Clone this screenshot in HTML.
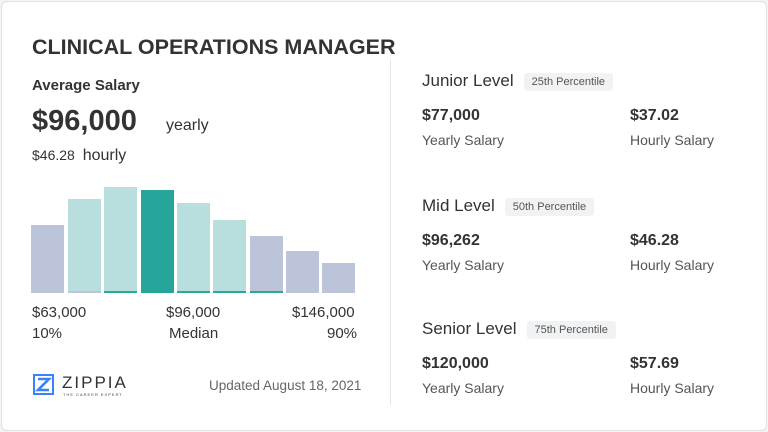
<!DOCTYPE html>
<html><head><style>
body{margin:0;width:768px;height:432px;background:#f3f4f6;font-family:"Liberation Sans",sans-serif;color:#333;overflow:hidden}
.card{position:absolute;left:1px;top:1px;width:764px;height:428px;background:#fff;border:1px solid #dfe1e5;border-radius:6px}
.t{position:absolute;white-space:nowrap}
.bar{position:absolute;width:33px}
.pill{display:inline-block;background:#f1f2f4;color:#555;font-size:11px;padding:3px 8px;border-radius:3px;margin-left:10px;vertical-align:middle}
</style></head><body>
<div class="card"></div>
<div class="t" style="left:32px;top:35px;font-size:21.5px;font-weight:bold;color:#333">CLINICAL OPERATIONS MANAGER</div>
<div class="t" style="left:32px;top:77px;font-size:15px;font-weight:bold">Average Salary</div>
<div class="t" style="left:32px;top:105px;font-size:29px;font-weight:bold">$96,000</div>
<div class="t" style="left:166px;top:117px;font-size:16px">yearly</div>
<div class="t" style="left:32px;top:147px;font-size:14px">$46.28 <span style="font-size:16px;margin-left:4px">hourly</span></div>
<div style="position:absolute;left:390px;top:60px;width:1px;height:345px;background:#e3e5e8"></div>

<div class="bar" style="left:31px;top:225px;height:68px;background:#bcc4da"></div>
<div class="bar" style="left:68px;top:199px;height:94px;background:#b8dfdd;border-bottom:2px solid #bcc4da;box-sizing:border-box"></div>
<div class="bar" style="left:104px;top:187px;height:106px;background:#b8dfdd;border-bottom:2px solid #2aa89a;box-sizing:border-box"></div>
<div class="bar" style="left:141px;top:190px;height:103px;background:#26a69a"></div>
<div class="bar" style="left:177px;top:203px;height:90px;background:#b8dfdd;border-bottom:2px solid #2aa89a;box-sizing:border-box"></div>
<div class="bar" style="left:213px;top:220px;height:73px;background:#b8dfdd;border-bottom:2px solid #2aa89a;box-sizing:border-box"></div>
<div class="bar" style="left:250px;top:236px;height:57px;background:#bcc4da;border-bottom:2px solid #2aa89a;box-sizing:border-box"></div>
<div class="bar" style="left:286px;top:251px;height:42px;background:#bcc4da"></div>
<div class="bar" style="left:322px;top:263px;height:30px;background:#bcc4da"></div>

<div class="t" style="left:32px;top:304px;font-size:15px">$63,000</div>
<div class="t" style="left:166px;top:304px;font-size:15px">$96,000</div>
<div class="t" style="left:292px;top:304px;font-size:15px">$146,000</div>
<div class="t" style="left:32px;top:325px;font-size:15px">10%</div>
<div class="t" style="left:169px;top:325px;font-size:15px">Median</div>
<div class="t" style="left:327px;top:325px;font-size:15px">90%</div>

<svg style="position:absolute;left:33px;top:374px" width="21" height="21" viewBox="0 0 21 21"><rect x="1" y="1" width="19" height="19" fill="none" stroke="#3b82f6" stroke-width="2"/><path d="M5 5H16L5 16H16" fill="none" stroke="#3b82f6" stroke-width="2.6"/></svg>
<div class="t" style="left:62px;top:373px;font-size:17px;letter-spacing:2px;color:#333">ZIPPIA</div>
<div class="t" style="left:63px;top:392px;font-size:4px;letter-spacing:1px;color:#444">THE CAREER EXPERT</div>
<div class="t" style="left:209px;top:378px;font-size:13.5px;color:#666">Updated August 18, 2021</div>

<div class="t" style="left:422px;top:71px;font-size:17px">Junior Level<span class="pill">25th Percentile</span></div>
<div class="t" style="left:422px;top:107px;font-size:16px;font-weight:bold">$77,000</div>
<div class="t" style="left:422px;top:132px;font-size:14px;color:#555">Yearly Salary</div>
<div class="t" style="left:630px;top:107px;font-size:16px;font-weight:bold">$37.02</div>
<div class="t" style="left:630px;top:132px;font-size:14px;color:#555">Hourly Salary</div>

<div class="t" style="left:422px;top:196px;font-size:17px">Mid Level<span class="pill">50th Percentile</span></div>
<div class="t" style="left:422px;top:232px;font-size:16px;font-weight:bold">$96,262</div>
<div class="t" style="left:422px;top:257px;font-size:14px;color:#555">Yearly Salary</div>
<div class="t" style="left:630px;top:232px;font-size:16px;font-weight:bold">$46.28</div>
<div class="t" style="left:630px;top:257px;font-size:14px;color:#555">Hourly Salary</div>

<div class="t" style="left:422px;top:319px;font-size:17px">Senior Level<span class="pill">75th Percentile</span></div>
<div class="t" style="left:422px;top:355px;font-size:16px;font-weight:bold">$120,000</div>
<div class="t" style="left:422px;top:380px;font-size:14px;color:#555">Yearly Salary</div>
<div class="t" style="left:630px;top:355px;font-size:16px;font-weight:bold">$57.69</div>
<div class="t" style="left:630px;top:380px;font-size:14px;color:#555">Hourly Salary</div>
</body></html>
